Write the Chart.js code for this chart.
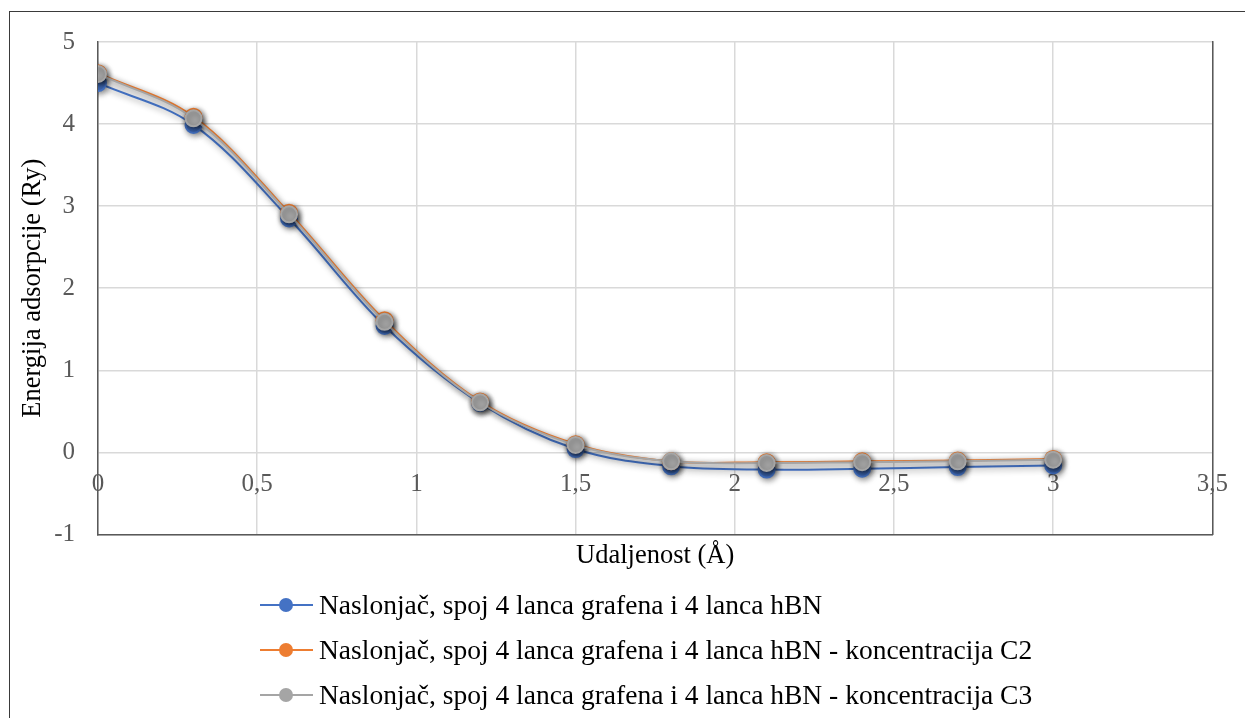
<!DOCTYPE html>
<html>
<head>
<meta charset="utf-8">
<script src="https://cdn.jsdelivr.net/npm/chart.js@4.4.1/dist/chart.umd.min.js"></script>
<style>
  html, body { margin: 0; padding: 0; background: #fff; }
  #wrap { position: relative; width: 1245px; height: 718px; overflow: hidden; }
  #chart { position: absolute; left: 0; top: 0; }
  #frame { position: absolute; left: 9px; top: 11px; width: 1400px; height: 900px;
           border: 1px solid #3a3a3a; pointer-events: none; }
  #legend { position: absolute; left: 260px; top: 582px; font-family: "Liberation Serif", "Times New Roman", serif;
            font-size: 27.5px; color: #000; }
  .row { position: relative; height: 45px; display: flex; align-items: center; white-space: nowrap; }
  .mk { position: relative; width: 53px; height: 14px; margin-right: 6px; flex: none; }
  .mk .ln { position: absolute; left: 0; right: 0; top: 6px; height: 2px; }
  .mk .dt { position: absolute; left: 19px; top: 0; width: 14px; height: 14px; border-radius: 50%; }
</style>
</head>
<body>
<div id="wrap">
  <canvas id="chart" width="1245" height="718"></canvas>
  <div id="frame"></div>
  <div id="legend"></div>
</div>
<script>
// ---- data ----
const xValues = [0, 0.3, 0.6, 0.9, 1.2, 1.5, 1.8, 2.1, 2.4, 2.7, 3.0];
const seriesNames = [
  "Naslonjač, spoj 4 lanca grafena i 4 lanca hBN",
  "Naslonjač, spoj 4 lanca grafena i 4 lanca hBN - koncentracija C2",
  "Naslonjač, spoj 4 lanca grafena i 4 lanca hBN - koncentracija C3"
];
const seriesBase = [4.50, 3.99, 2.85, 1.54, 0.60, 0.04, -0.17, -0.21, -0.20, -0.18, -0.16];
const seriesC2   = [4.62, 4.09, 2.92, 1.61, 0.62, 0.10, -0.11, -0.12, -0.11, -0.10, -0.08];
const seriesC3   = [4.61, 4.07, 2.90, 1.59, 0.61, 0.09, -0.11, -0.13, -0.12, -0.11, -0.09];
const xTickLabels = ["0", "0,5", "1", "1,5", "2", "2,5", "3", "3,5"];
const yTickLabels = ["-1", "0", "1", "2", "3", "4", "5"];
const xTitle = "Udaljenost (Å)";
const yTitle = "Energija adsorpcije (Ry)";
const colors = ["#4472C4", "#ED7D31", "#A5A5A5"];

const allSeries = [seriesBase, seriesC2, seriesC3];
const FONT = "'Liberation Serif', 'Times New Roman', serif";

const datasets = allSeries.map((s, i) => ({
  label: seriesNames[i],
  data: xValues.map((x, j) => ({ x: x, y: s[j] })),
  borderColor: colors[i],
  backgroundColor: colors[i],
  pointBackgroundColor: colors[i],
  pointBorderColor: colors[i],
  pointRadius: 8,
  pointHoverRadius: 8,
  borderWidth: 2,
  tension: 0.35,
  order: 2 - i
}));

const shadowPlugin = {
  id: 'shadow',
  beforeDatasetDraw(chart) {
    const ctx = chart.ctx;
    ctx.save();
    ctx.shadowColor = 'rgba(0,0,0,0.45)';
    ctx.shadowBlur = 6;
    ctx.shadowOffsetX = 1.5;
    ctx.shadowOffsetY = 2;
  },
  afterDatasetDraw(chart) {
    chart.ctx.restore();
  }
};

new Chart(document.getElementById('chart'), {
  type: 'line',
  data: { datasets },
  plugins: [shadowPlugin],
  options: {
    responsive: false,
    animation: false,
    events: [],
    layout: { padding: { left: 10, top: 42, right: 31, bottom: 145.8 } },
    plugins: {
      legend: { display: false },
      tooltip: { enabled: false }
    },
    scales: {
      x: {
        type: 'linear',
        min: 0, max: 3.5,
        position: { y: 0 },
        ticks: {
          stepSize: 0.5,
          padding: 17,
          color: '#595959',
          font: { family: FONT, size: 25 },
          maxRotation: 0,
          callback: (v, i) => xTickLabels[i]
        },
        grid: { color: '#d9d9d9', lineWidth: 1.5, drawTicks: false },
        border: { display: false }
      },
      x2: {
        type: 'linear',
        min: 0, max: 3.5,
        position: 'bottom',
        ticks: { display: false },
        grid: { drawOnChartArea: false, drawTicks: false },
        border: { display: true, color: '#595959', width: 1.5 },
        title: {
          display: true, text: xTitle, color: '#000',
          font: { family: FONT, size: 26.5 },
          padding: { top: 6, bottom: 0 }
        }
      },
      y: {
        type: 'linear',
        min: -1, max: 5,
        position: 'left',
        afterFit: (s) => { s.width = 88; },
        ticks: {
          stepSize: 1,
          padding: 23,
          color: '#595959',
          font: { family: FONT, size: 25 },
          callback: (v, i) => yTickLabels[i]
        },
        grid: { color: '#d9d9d9', lineWidth: 1.5, drawTicks: false },
        border: { display: true, color: '#595959', width: 1.5 },
        title: {
          display: true, text: yTitle, color: '#000',
          font: { family: FONT, size: 26.5 },
          padding: { top: 7, bottom: 0 }
        }
      },
      y2: {
        type: 'linear',
        min: -1, max: 5,
        position: 'right',
        ticks: { display: false },
        grid: { drawOnChartArea: false, drawTicks: false },
        border: { display: true, color: '#595959', width: 1.5 }
      }
    }
  }
});

// HTML legend built from series names/colours
const leg = document.getElementById('legend');
seriesNames.forEach((name, i) => {
  const row = document.createElement('div');
  row.className = 'row';
  const mk = document.createElement('span');
  mk.className = 'mk';
  const ln = document.createElement('span'); ln.className = 'ln'; ln.style.background = colors[i];
  const dt = document.createElement('span'); dt.className = 'dt'; dt.style.background = colors[i];
  mk.appendChild(ln); mk.appendChild(dt);
  const tx = document.createElement('span'); tx.textContent = name;
  row.appendChild(mk); row.appendChild(tx);
  leg.appendChild(row);
});
</script>
</body>
</html>
